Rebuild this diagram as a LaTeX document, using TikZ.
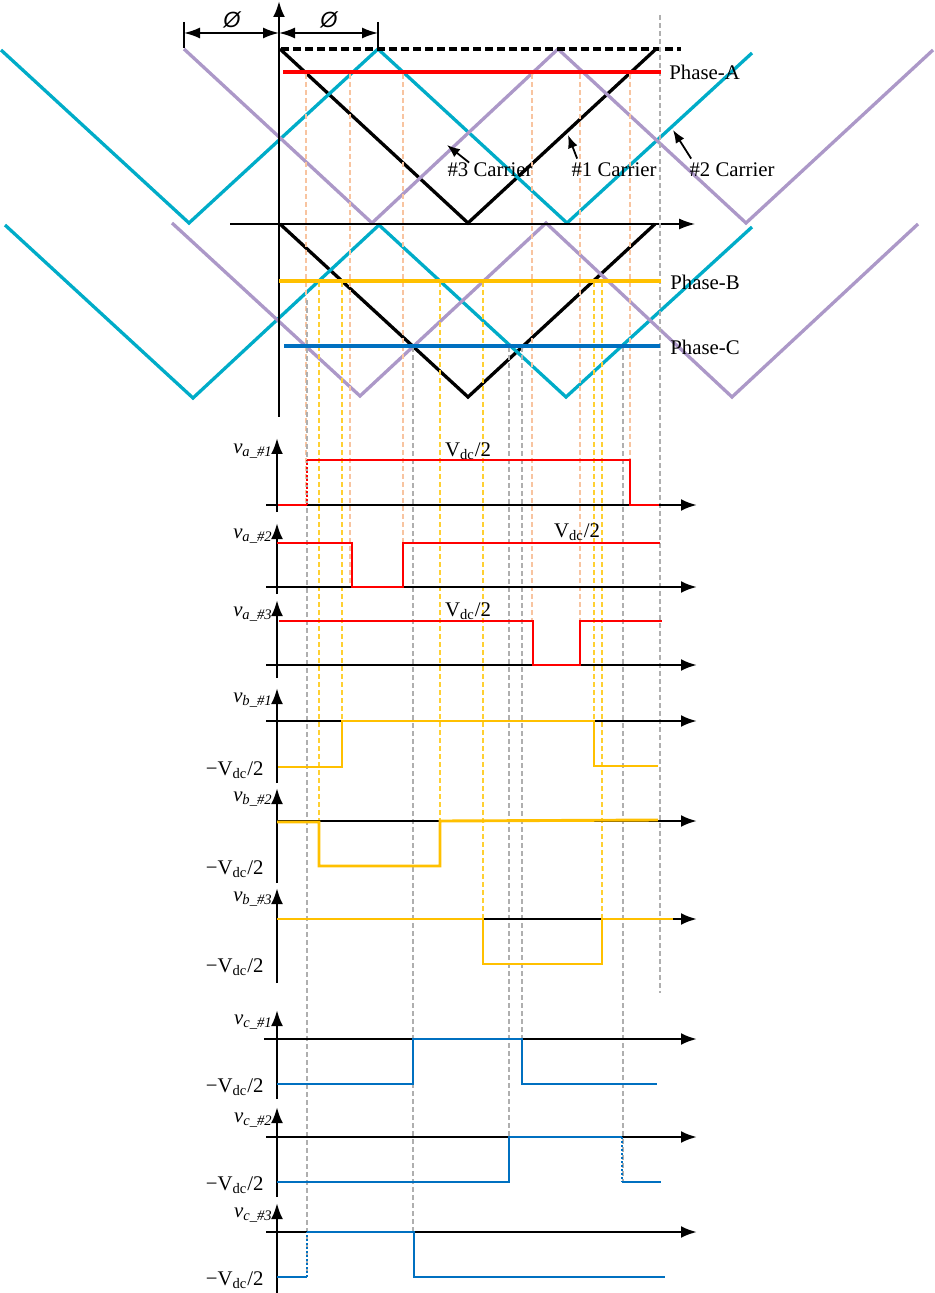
\documentclass[tikz,border=0pt]{standalone}
\usepackage{fontspec}
\setmainfont{Liberation Serif}
\newfontfamily\phifont{Liberation Sans}
\usetikzlibrary{arrows.meta}
\definecolor{carcyan}{RGB}{0,172,200}
\definecolor{carpurple}{RGB}{172,152,200}
\definecolor{phred}{RGB}{255,0,0}
\definecolor{phgold}{RGB}{255,192,0}
\definecolor{phblue}{RGB}{0,112,192}
\definecolor{gdorange}{RGB}{248,196,160}
\definecolor{gdyellow}{RGB}{255,208,50}
\definecolor{gdgray}{RGB}{175,175,175}
\newcommand{\vsig}[2]{\textit{v}\textsubscript{\textit{#1\_\##2}}}
\newcommand{\vdc}{V\textsubscript{dc}/2}
\newcommand{\mvdc}{−V\textsubscript{dc}/2}

\begin{document}
\begin{tikzpicture}[x=0.5pt,y=-0.5pt,
    ax/.style={black,line width=1.35pt,-{Latex[length=8pt,width=6pt]}},
    carrier/.style={line width=1.65pt},
    phase/.style={line width=2.3pt},
    wave/.style={line width=1.45pt},
    dotwave/.style={line width=1.45pt,dash pattern=on 1pt off 1pt},
    guide/.style={line width=0.9pt,dash pattern=on 2.5pt off 1.5pt},
    pointer/.style={black,line width=0.9pt,-{Latex[length=6.5pt,width=5pt]}},
    dim/.style={black,line width=0.9pt,{Latex[length=8pt,width=5.5pt]}-{Latex[length=8pt,width=5.5pt]}}]
    \tikzstyle{every node}+=[inner sep=0pt,font=\fontsize{10.4}{12}\selectfont]
    \useasboundingbox (0,0) rectangle (934,1293);
    % carriers
    \draw [carrier,black] (280,49) -- (468,223) -- (656,49);
    \draw [carrier,carcyan] (1,50) -- (189,223) -- (378,49) -- (567,223) -- (752,53);
    \draw [carrier,carpurple] (184,49) -- (372,223) -- (558,49) -- (746,223) -- (933,50);
    \draw [carrier,black] (280,224) -- (468,397) -- (655,224);
    \draw [carrier,carcyan] (5,225) -- (193,398) -- (379,225) -- (566,397) -- (752,227);
    \draw [carrier,carpurple] (172,223) -- (360,396) -- (546,223) -- (732,397) -- (918,224);
    \draw [black,line width=1.6pt,dash pattern=on 4pt off 2pt] (281,49) -- (681,49);
    \draw [black,line width=0.7pt,-{Latex[length=8pt,width=5.5pt]}] (230,224) -- (695,224);
    \draw [ax] (279,417) -- (279,1);
    \draw [dim] (184,33) -- (279,33);
    \draw [dim] (279,33) -- (378,33);
    \draw [black,line width=0.9pt] (184,22) -- (184,48);
    \draw [black,line width=0.9pt] (378,22) -- (378,48);
    \node (phiL) at (232,20) {\phifont\itshape\fontsize{11}{12}\selectfont \O};
    \node (phiR) at (329,20) {\phifont\itshape\fontsize{11}{12}\selectfont \O};
    % guides
    \draw [guide,gdorange] (306,74) -- (306,505);
    \draw [guide,gdorange] (350,74) -- (350,587);
    \draw [guide,gdorange] (403,74) -- (403,587);
    \draw [guide,gdorange] (532,74) -- (532,621);
    \draw [guide,gdorange] (580,74) -- (580,621);
    \draw [guide,gdorange] (630,74) -- (630,505);
    \draw [guide,gdyellow] (319,282) -- (319,866);
    \draw [guide,gdyellow] (342,282) -- (342,767);
    \draw [guide,gdyellow] (440,282) -- (440,866);
    \draw [guide,gdyellow] (483,282) -- (483,964);
    \draw [guide,gdyellow] (594,282) -- (594,767);
    \draw [guide,gdyellow] (602,282) -- (602,964);
    \draw [guide,gdgray] (307,300) -- (307,1277);
    \draw [guide,gdgray] (413,347) -- (413,1232);
    \draw [guide,gdgray] (509,347) -- (509,1182);
    \draw [guide,gdgray] (522,347) -- (522,1039);
    \draw [guide,gdgray] (623,347) -- (623,1182);
    \draw [guide,gdgray] (660,15) -- (660,993);
    % phase references
    \draw [phase,phred] (283,72) -- (661,72);
    \draw [phase,phgold] (279,281) -- (661,281);
    \draw [phase,phblue] (284,346) -- (660,346);
    \node [anchor=west] (phA) at (669,72) {Phase-A};
    \node [anchor=west] (phB) at (670,282) {Phase-B};
    \node [anchor=west] (phC) at (670,347) {Phase-C};
    \node (car3) at (490,170) {\#3 Carrier};
    \node (car1) at (614,170) {\#1 Carrier};
    \node (car2) at (732,170) {\#2 Carrier};
    \coordinate (car3tip) at (447,145);
    \coordinate (car1tip) at (568,135);
    \coordinate (car2tip) at (673,130);
    \draw [pointer] ([xshift=11pt]car3.north west) -- (car3tip);
    \draw [pointer] ([xshift=3pt,yshift=2pt]car1.north west) -- (car1tip);
    \draw [pointer] ([xshift=1pt,yshift=2pt]car2.north west) -- (car2tip);
    % phase A outputs
    \draw [ax] (277,512) -- (277,438);
    \draw [ax] (266,505) -- (697,505);
    \draw [wave,phred] (278,505) -- (307,505);
    \draw [dotwave,phred] (307,505) -- (307,460);
    \draw [wave,phred] (307,460) -- (630,460) -- (630,505) -- (659,505);
    \node [anchor=east] (va1) at (273,451) {\vsig{a}{1}};
    \node (va1v) at (468,451) {\vdc};
    \draw [ax] (277,594) -- (277,523);
    \draw [ax] (266,587) -- (697,587);
    \draw [wave,phred] (277,543) -- (352,543) -- (352,587) -- (403,587) -- (403,543) -- (660,543);
    \node [anchor=east] (va2) at (273,536) {\vsig{a}{2}};
    \node (va2v) at (577,532) {\vdc};
    \draw [ax] (277,678) -- (277,600);
    \draw [ax] (266,665) -- (697,665);
    \draw [wave,phred] (279,621) -- (533,621) -- (533,665) -- (580,665) -- (580,621) -- (662,621);
    \node [anchor=east] (va3) at (273,614) {\vsig{a}{3}};
    \node (va3v) at (468,611) {\vdc};
    % phase B outputs
    \draw [ax] (277,783) -- (277,688);
    \draw [ax] (266,721) -- (697,721);
    \draw [wave,phgold] (278,767) -- (342,767) -- (342,721) -- (594,721) -- (594,766) -- (658,766);
    \node [anchor=east] (vb1) at (273,700) {\vsig{b}{1}};
    \node [anchor=east] (vb1v) at (264,770) {\mvdc};
    \draw [ax] (277,883) -- (277,788);
    \draw [ax] (277,821) -- (697,821);
    \draw [wave,phgold] (277,822) -- (319,822) -- (319,866) -- (440,866) -- (440,821) -- (658,820);
    \node [anchor=east] (vb2) at (273,799) {\vsig{b}{2}};
    \node [anchor=east] (vb2v) at (264,869) {\mvdc};
    \draw [ax] (277,983) -- (277,888);
    \draw [ax] (277,919) -- (697,919);
    \draw [wave,phgold] (277,919) -- (483,919) -- (483,964) -- (602,964) -- (602,919) -- (673,919);
    \node [anchor=east] (vb3) at (273,899) {\vsig{b}{3}};
    \node [anchor=east] (vb3v) at (264,967) {\mvdc};
    % phase C outputs
    \draw [ax] (277,1099) -- (277,1010);
    \draw [ax] (264,1039) -- (697,1039);
    \draw [wave,phblue] (277,1084) -- (413,1084) -- (413,1039) -- (522,1039) -- (522,1084) -- (657,1084);
    \node [anchor=east] (vc1) at (273,1022) {\vsig{c}{1}};
    \node [anchor=east] (vc1v) at (264,1087) {\mvdc};
    \draw [ax] (277,1197) -- (277,1107);
    \draw [ax] (266,1137) -- (697,1137);
    \draw [wave,phblue] (277,1182) -- (509,1182) -- (509,1137) -- (622,1137);
    \draw [dotwave,phblue] (622,1137) -- (622,1182);
    \draw [wave,phblue] (622,1182) -- (661,1182);
    \node [anchor=east] (vc2) at (273,1120) {\vsig{c}{2}};
    \node [anchor=east] (vc2v) at (264,1185) {\mvdc};
    \draw [ax] (277,1293) -- (277,1203);
    \draw [ax] (266,1232) -- (697,1232);
    \draw [wave,phblue] (277,1277) -- (307,1277);
    \draw [dotwave,phblue] (307,1277) -- (307,1232);
    \draw [wave,phblue] (307,1232) -- (414,1232) -- (414,1277) -- (665,1277);
    \node [anchor=east] (vc3) at (273,1215) {\vsig{c}{3}};
    \node [anchor=east] (vc3v) at (264,1280) {\mvdc};
\end{tikzpicture}
\end{document}
